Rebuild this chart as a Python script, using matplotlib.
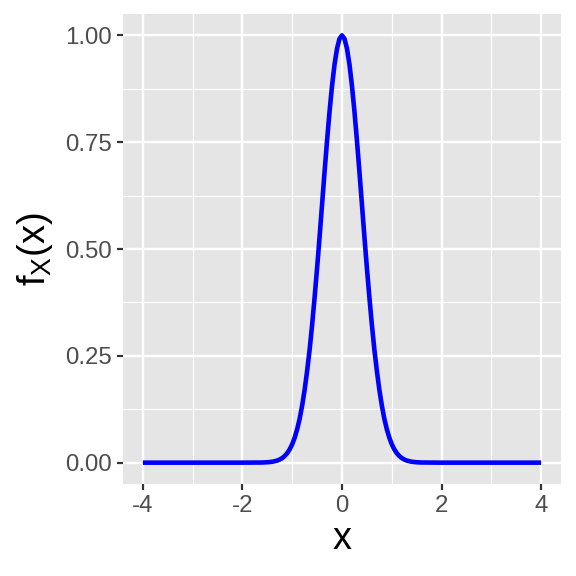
import matplotlib
matplotlib.use('Agg')
from matplotlib import pyplot as plt

# points
x_vals = [-4.0, -3.0, -2.0, -1.6, -1.5, -1.4, -1.3, -1.25, -1.2, -1.15, -1.1, -1.05, -1.0,
          -0.95, -0.9, -0.85, -0.8, -0.75, -0.7, -0.65, -0.6, -0.55, -0.5, -0.45, -0.4,
          -0.35, -0.3, -0.25, -0.2, -0.15, -0.1, -0.05, 0.0,
          0.05, 0.1, 0.15, 0.2, 0.25, 0.3, 0.35, 0.4, 0.45, 0.5, 0.55, 0.6, 0.65, 0.7,
          0.75, 0.8, 0.85, 0.9, 0.95, 1.0, 1.05, 1.1, 1.15, 1.2, 1.25, 1.3, 1.4, 1.5,
          1.6, 2.0, 3.0, 4.0]
y_vals = [0.0, 0.0, 0.0, 0.0003, 0.0009, 0.0021, 0.0049, 0.0074, 0.0108, 0.0157, 0.0223, 0.0313, 0.0432,
          0.0587, 0.0785, 0.103, 0.134, 0.171, 0.215, 0.265, 0.323, 0.387, 0.456, 0.529, 0.605,
          0.681, 0.754, 0.822, 0.882, 0.932, 0.969, 0.992, 1.0,
          0.992, 0.969, 0.932, 0.882, 0.822, 0.754, 0.681, 0.605, 0.529, 0.456, 0.387, 0.323, 0.265, 0.215,
          0.171, 0.134, 0.103, 0.0785, 0.0587, 0.0432, 0.0313, 0.0223, 0.0157, 0.0108, 0.0074, 0.0049, 0.0021, 0.0009,
          0.0003, 0.0, 0.0, 0.0]

x_ticks = [-4, -2, 0, 2, 4]
y_ticks = [0.0, 0.25, 0.5, 0.75, 1.0]
y_tick_labels = ['0.00', '0.25', '0.50', '0.75', '1.00']

plt.rcParams['font.family'] = ['Liberation Sans', 'DejaVu Sans']
plt.rcParams['mathtext.default'] = 'regular'
plt.rcParams['axes.unicode_minus'] = False

fig = plt.figure(figsize=(4, 4), dpi=144)
ax = fig.add_axes([0.2135, 0.1597, 0.7605, 0.816])
ax.set_facecolor('#E5E5E5')
for s in ax.spines.values():
    s.set_visible(False)

ax.plot(x_vals, y_vals, color='blue', lw=2.3, solid_capstyle='butt', zorder=3)

ax.set_xlim(-4.4, 4.4)
ax.set_ylim(-0.05, 1.05)
ax.set_xticks(x_ticks)
ax.set_yticks(y_ticks)
ax.set_yticklabels(y_tick_labels)
ax.set_xticks([-3, -1, 1, 3], minor=True)
ax.set_yticks([0.125, 0.375, 0.625, 0.875], minor=True)
ax.grid(which='major', color='white', lw=1.2)
ax.grid(which='minor', color='white', lw=0.6)
ax.set_axisbelow(True)
ax.tick_params(which='major', length=3.0, width=1.1, color='#333333',
               labelcolor='#4D4D4D', labelsize=12, pad=2.5)
ax.tick_params(which='minor', length=0)

ax.set_xlabel('x', fontsize=19, labelpad=2)
ax.set_ylabel('f$_X$(x)', fontsize=19, labelpad=5)

fig.savefig('out.png', dpi=144)
